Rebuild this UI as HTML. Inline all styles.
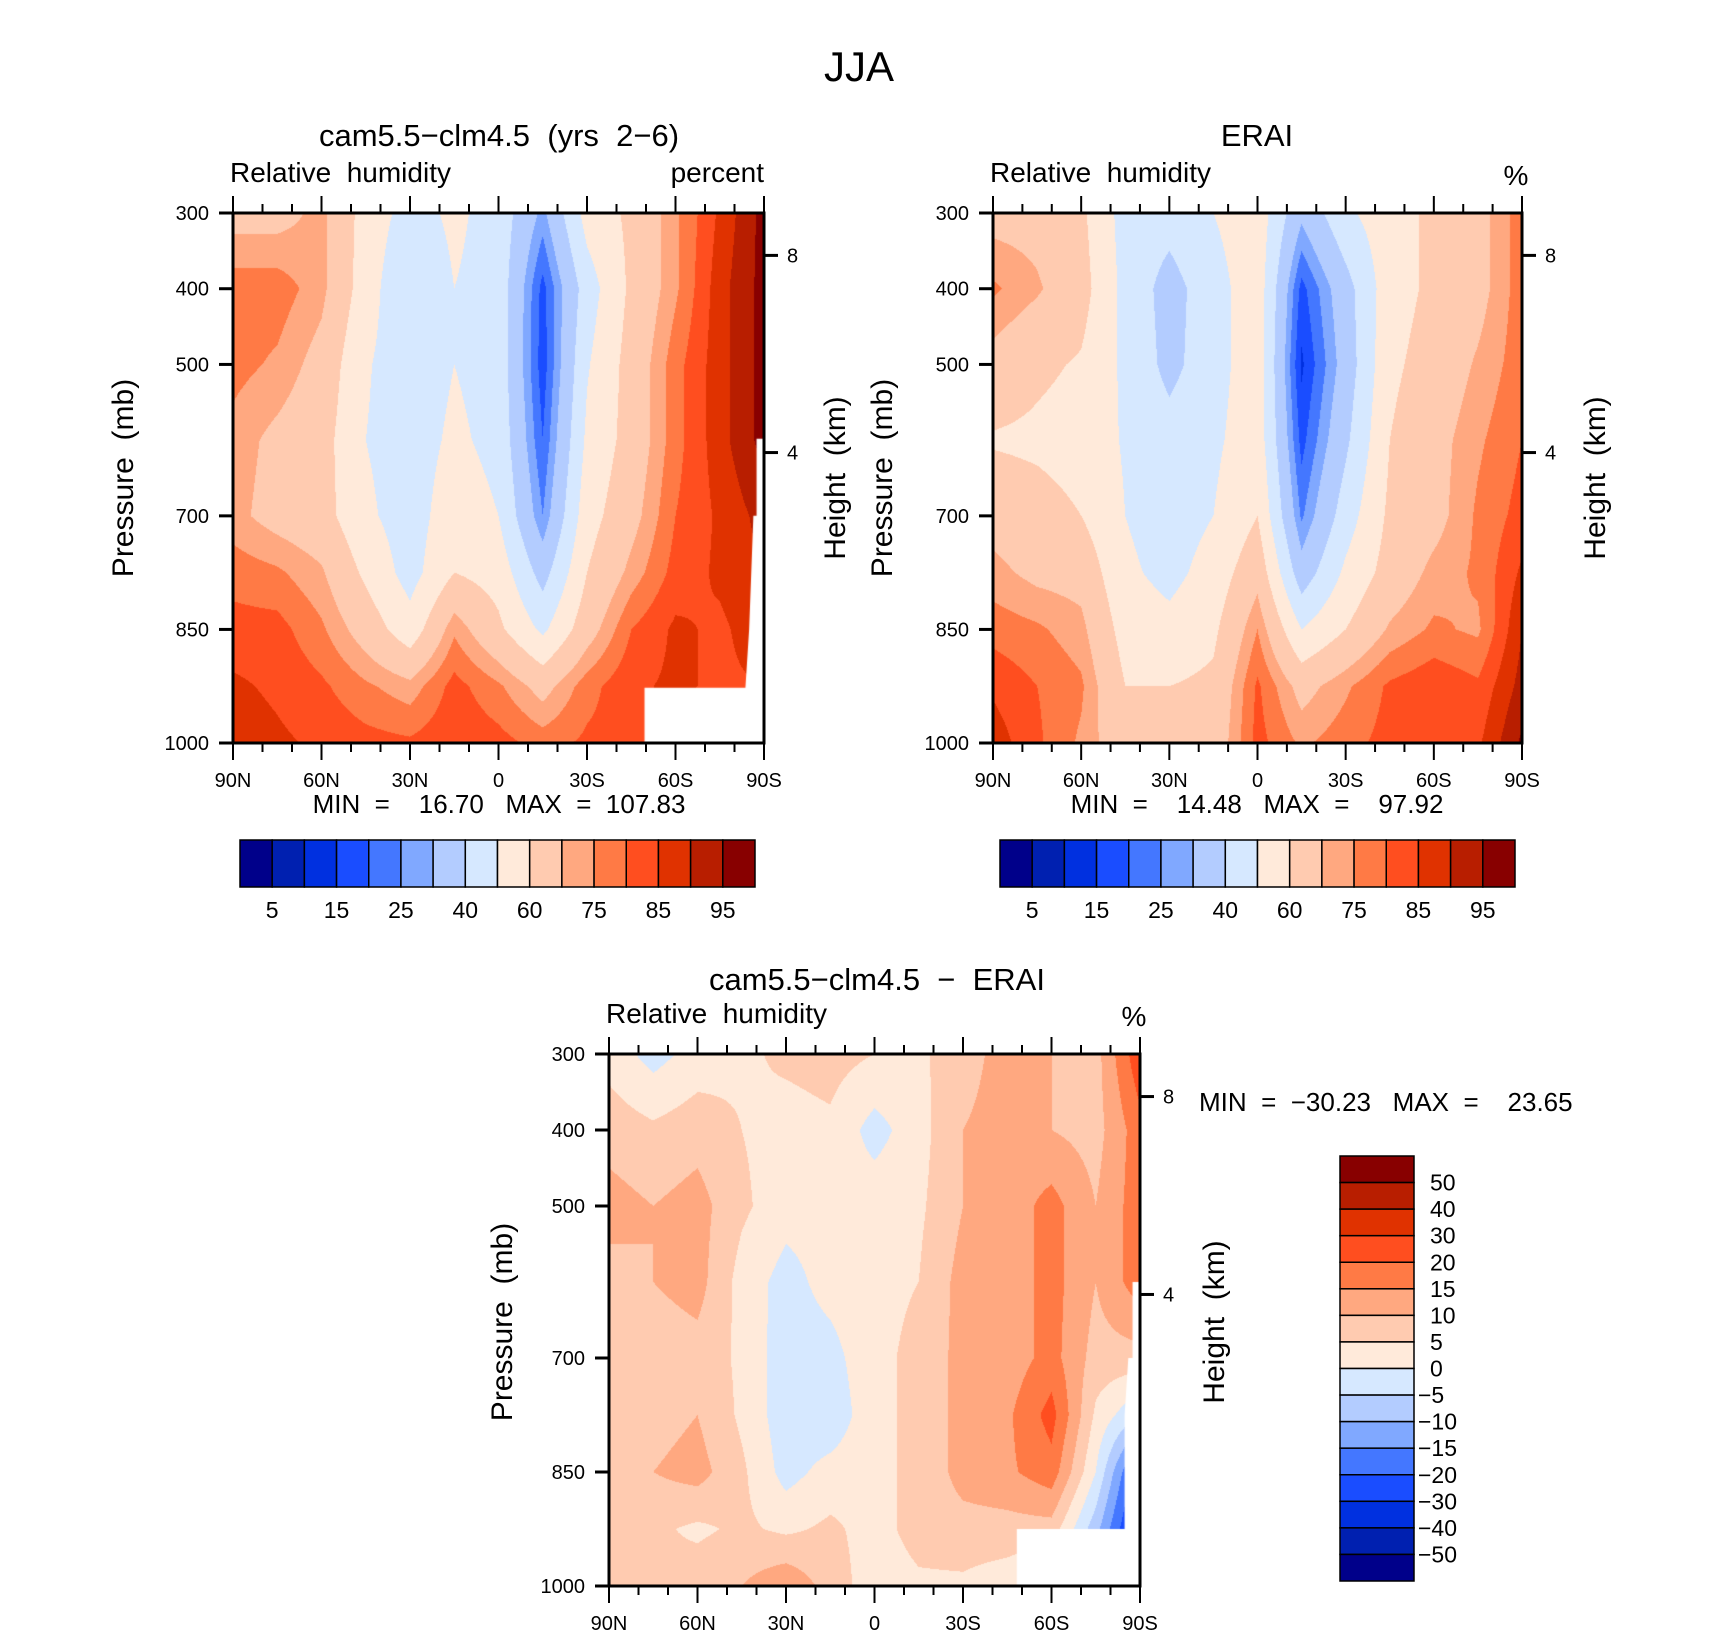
<!DOCTYPE html>
<html><head><meta charset="utf-8"><title>JJA Relative humidity</title>
<style>
html,body{margin:0;padding:0;background:#fff;}
#root{position:relative;width:1710px;height:1631px;overflow:hidden;background:#fff;font-family:"Liberation Sans",sans-serif;}
canvas{position:absolute;}
svg{position:absolute;left:0;top:0;}
</style></head>
<body>
<div id="root">
<canvas id="c1"></canvas>
<canvas id="c2"></canvas>
<canvas id="c3"></canvas>
<svg id="ov" width="1710" height="1631"></svg>
</div>
<script>
// ---- data ----
const lats = [90,75,60,45,30,15,0,-15,-30,-45,-60,-75,-90];
const plevs = [300,400,500,600,700,775,850,925,1000];
const latTicks = ["90N","60N","30N","0","30S","60S","90S"];
const presTicks = [300,400,500,700,850,1000];
const heightTicks = [8,4];
const rhLevels = [5,10,15,20,25,30,40,50,60,70,75,80,85,90,95];
const rhLabels = ["5","15","25","40","60","75","85","95"];
const diffLevels = [-50,-40,-30,-20,-15,-10,-5,0,5,10,15,20,30,40,50];
const colors = ["#00008a","#0020b0","#0030e0","#1a4dff","#4477ff","#80a8ff","#b3ccff","#d6e8ff","#ffeada","#ffcbb0","#ffa880","#ff7a45","#ff4e1f","#e03200","#b81e00","#880000"];
// rows = pressure levels, columns = latitudes
const modelVals = [
 [67,67,72,56,46,52,46,28,54,62,74,86,97],
 [78,78,72,55,40,50,46,18,45,62,74,88,97],
 [77,74,67,51,44,50,46,17,49,64,78,88,97],
 [73,68,64,50,45,52,47,20,52,64,78,88,97],
 [72,67,64,52,45,56,50,25,56,67,80,86,92],
 [78,76,71,58,46,60,56,36,60,72,82,86,90],
 [82,82,76,66,54,74,62,48,66,80,86,84,88],
 [86,84,81,76,72,82,76,67,78,84,86,84,85],
 [88,86,84,82,81,84,82,78,81,82,85,80,80]];
const eraiVals = [
 [67,67,62,46,44,50,56,32,48,56,62,67,78],
 [76,71,64,47,36,46,56,18,36,56,62,67,78],
 [67,62,59,48,37,46,56,14,34,58,64,71,78],
 [59,58,56,49,44,48,56,18,38,60,67,74,80],
 [67,64,60,50,45,50,60,24,45,62,67,76,82],
 [72,68,67,52,47,54,67,34,52,64,72,76,86],
 [78,76,72,56,53,58,75,50,60,71,76,74,90],
 [84,80,76,60,60,62,81,67,74,81,84,81,92],
 [88,81,74,64,64,64,82,74,78,82,85,84,96]];
const diffVals = [
 [3,-2,2,4,6,7,5,4,8,12,10,8,24],
 [8,6,8,5,3,4,-2,3,10,12,10,8,18],
 [12,10,12,6,2,2,3,4,10,12,17,10,18],
 [8,10,12,3,-2,2,4,5,12,12,17,10,18],
 [6,7,8,4,-3,-2,4,6,12,12,17,8,8],
 [7,8,10,4,-3,-4,4,6,12,14,22,4,-5],
 [7,10,12,6,-2,2,4,6,12,14,18,0,-25],
 [6,6,4,6,4,6,3,7,8,8,8,-8,-30],
 [7,6,8,10,14,8,2,4,4,2,-2,-15,-30]];
const modelMin = "16.70", modelMax = "107.83";
const eraiMin = "14.48", eraiMax = "97.92";
const diffMin = "\u221230.23", diffMax = "23.65";

// ---- layout ----
const P1 = {x:233,y:213,w:531,h:530};
const P2 = {x:993,y:213,w:529,h:530};
const P3 = {x:609,y:1054,w:531,h:532};
const NS = "http://www.w3.org/2000/svg";
const ov = document.getElementById('ov');

function xOfLat(P, lat){ return P.x + (90-lat)/180*P.w; }
function yOfP(P, p){ return P.y + (p-300)/700*P.h; }
function pOfZ(z){ return 1013.25*Math.pow(1-2.25577e-5*z*1000,5.25588); }

function sampleField(vals, f, p){
  const nc = lats.length;
  let fi = f*(nc-1); let i0 = Math.min(nc-2, Math.max(0, Math.floor(fi))); let tx = fi-i0;
  let j0 = 0;
  while(j0 < plevs.length-2 && p > plevs[j0+1]) j0++;
  let ty = (p-plevs[j0])/(plevs[j0+1]-plevs[j0]);
  ty = Math.max(0,Math.min(1,ty)); tx=Math.max(0,Math.min(1,tx));
  const a=vals[j0][i0], b=vals[j0][i0+1], c=vals[j0+1][i0], d=vals[j0+1][i0+1];
  return (a*(1-tx)+b*tx)*(1-ty)+(c*(1-tx)+d*tx)*ty;
}
function hexRGB(h){ return [parseInt(h.substr(1,2),16),parseInt(h.substr(3,2),16),parseInt(h.substr(5,2),16)]; }
const rgb = colors.map(hexRGB);

function drawField(id, P, vals, levels, mask){
  const cv = document.getElementById(id);
  cv.width = P.w; cv.height = P.h;
  cv.style.left = P.x+'px'; cv.style.top = P.y+'px';
  const ctx = cv.getContext('2d');
  const img = ctx.createImageData(P.w, P.h);
  for(let py=0; py<P.h; py++){
    const p = 300 + (py+0.5)/P.h*700;
    for(let px=0; px<P.w; px++){
      const f = (px+0.5)/P.w;
      const v = sampleField(vals, f, p);
      let k=0; while(k<levels.length && v>=levels[k]) k++;
      const c = rgb[k]; const o=(py*P.w+px)*4;
      img.data[o]=c[0]; img.data[o+1]=c[1]; img.data[o+2]=c[2]; img.data[o+3]=255;
    }
  }
  ctx.putImageData(img,0,0);
  if(mask){
    ctx.fillStyle='#fff'; ctx.beginPath();
    mask.forEach((pt,i)=>{ const X=pt[0]*P.w, Y=(pt[1]-300)/700*P.h; if(i) ctx.lineTo(X,Y); else ctx.moveTo(X,Y); });
    ctx.closePath(); ctx.fill();
  }
}

function mk(tag, attrs){ const el=document.createElementNS(NS,tag); for(const k in attrs) el.setAttribute(k,attrs[k]); ov.appendChild(el); return el; }
function text(x,y,str,size,anchor,name,rot){
  const el = mk('text',{x:x,y:y,'font-size':size,'text-anchor':anchor||'start','font-family':'Liberation Sans, sans-serif',fill:'#000'});
  if(rot) el.setAttribute('transform','rotate(-90 '+x+' '+y+')');
  el.setAttribute('xml:space','preserve');
  el.style.whiteSpace='pre';
  el.textContent = str;
  
  
  return el;
}
function line(x1,y1,x2,y2,w,name){
  const el = mk('line',{x1:x1,y1:y1,x2:x2,y2:y2,stroke:'#000','stroke-width':w});
  
  
  return el;
}

function drawAxes(P, prefix, leftLabel, unitLabel, unitPercent){
  const fr = mk('rect',{x:P.x,y:P.y,width:P.w,height:P.h,fill:'none',stroke:'#000','stroke-width':3});
  
  
  for(let lat=90; lat>=-90; lat-=10){
    const x = xOfLat(P,lat); const major = (lat%30===0);
    line(x,P.y,x,P.y-(major?17:9),2,prefix+'-top-tick');
    line(x,P.y+P.h,x,P.y+P.h+(major?17:9),2,prefix+'-bottom-tick');
  }
  latTicks.forEach((lab,i)=>{
    text(xOfLat(P,90-i*30), P.y+P.h+44, lab, 20, 'middle', prefix+'-x-tick-label');
  });
  presTicks.forEach(p=>{
    const y=yOfP(P,p);
    line(P.x,y,P.x-14,y,3,prefix+'-y-tick');
    text(P.x-24,y+7,String(p),20,'end',prefix+'-y-tick-label');
  });
  heightTicks.forEach(z=>{
    const y=yOfP(P,pOfZ(z));
    line(P.x+P.w,y,P.x+P.w+14,y,3,prefix+'-height-tick');
    text(P.x+P.w+23,y+7,String(z),20,'start',prefix+'-height-tick-label');
  });
  text(P.x-3, P.y-31, 'Relative  humidity', 28, 'start', prefix+'-variable-label');
  if(unitPercent) text(P.x+P.w-6, P.y-28, '%', 28, 'middle', prefix+'-units-label');
  else text(P.x+P.w, P.y-31, unitLabel, 28, 'end', prefix+'-units-label');
}

drawField('c1', P1, modelVals, rhLevels, [[0.986,598],[1.01,598],[1.01,1001],[0.775,1001],[0.775,927],[0.965,927],[0.972,850],[0.98,700],[0.986,700]]);
drawField('c2', P2, eraiVals, rhLevels, null);
drawField('c3', P3, diffVals, diffLevels, [[0.986,600],[1.01,600],[1.01,1001],[0.768,1001],[0.768,925],[0.971,925],[0.971,775],[0.978,700],[0.986,700]]);

drawAxes(P1,'model','Relative humidity','percent',false);
drawAxes(P2,'erai','Relative humidity','%',true);
drawAxes(P3,'diff','Relative humidity','%',true);

text(859,81,'JJA',42,'middle','main-title');
text(499,146,'cam5.5\u2212clm4.5  (yrs  2\u22126)',31,'middle','model-title');
text(1257,146,'ERAI',31,'middle','erai-title');
text(877,990,'cam5.5\u2212clm4.5  \u2212  ERAI',31,'middle','difference-title');

text(133,478,'Pressure  (mb)',30,'middle','model-y-axis-title',true);
text(845,478,'Height  (km)',30,'middle','model-height-axis-title',true);
text(892,478,'Pressure  (mb)',30,'middle','erai-y-axis-title',true);
text(1605,478,'Height  (km)',30,'middle','erai-height-axis-title',true);
text(512,1322,'Pressure  (mb)',30,'middle','diff-y-axis-title',true);
text(1224,1322,'Height  (km)',30,'middle','diff-height-axis-title',true);

text(499,813,'MIN  =    '+modelMin+'   MAX  =  '+modelMax,26,'middle','model-min-max');
text(1257,813,'MIN  =    '+eraiMin+'   MAX  =    '+eraiMax,26,'middle','erai-min-max');
text(1199,1111,'MIN  =  '+diffMin+'   MAX  =    '+diffMax,26,'start','diff-min-max');

function hBar(x0,w,y0,h,prefix){
  const bw = w/colors.length;
  colors.forEach((c,i)=>{
    const r = mk('rect',{x:x0+i*bw,y:y0,width:bw,height:h,fill:c,stroke:'#000','stroke-width':1.5});
    
    
  });
  rhLabels.forEach((lab,i)=>{
    text(x0+(2*i+1)*bw, y0+h+31, lab, 23, 'middle', prefix+'-colorbar-label');
  });
}
hBar(240,515,840,47,'model');
hBar(1000,515,840,47,'erai');

(function(){
  const x0=1340,w=74,y0=1156,h=425; const bh=h/colors.length;
  for(let i=0;i<colors.length;i++){
    const r = mk('rect',{x:x0,y:y0+i*bh,width:w,height:bh,fill:colors[colors.length-1-i],stroke:'#000','stroke-width':1.5});
    
    
  }
  for(let k=0;k<diffLevels.length;k++){
    const lv = diffLevels[diffLevels.length-1-k];
    const s = lv<0 ? '\u2212'+Math.abs(lv) : String(lv);
    text(lv<0?1418:1430, y0+(k+1)*bh+8, s, 23, 'start', 'diff-colorbar-label');
  }
})();
</script>
</body></html>
